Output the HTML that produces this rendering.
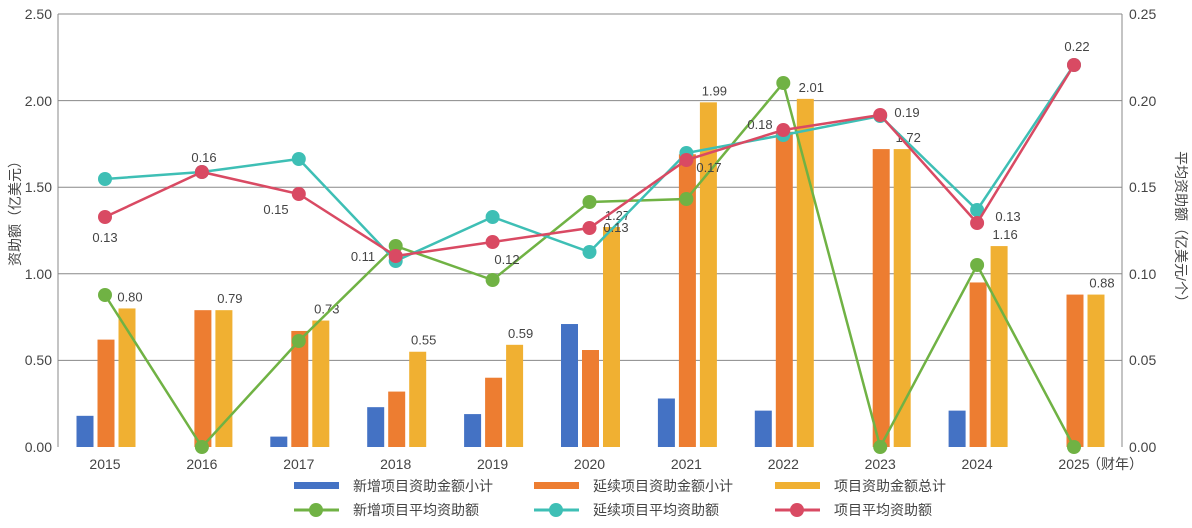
<!DOCTYPE html><html><head><meta charset="utf-8"><style>body{margin:0;background:#fff}svg{display:block;font-family:"Liberation Sans","Noto Sans CJK SC",sans-serif}</style></head><body>
<svg width="1192" height="528" viewBox="0 0 1192 528" xmlns="http://www.w3.org/2000/svg">
<g stroke="#888" stroke-width="1">
<line x1="58" x2="1122" y1="14" y2="14"/><line x1="58" x2="1122" y1="100.6" y2="100.6"/><line x1="58" x2="1122" y1="187.2" y2="187.2"/><line x1="58" x2="1122" y1="273.8" y2="273.8"/><line x1="58" x2="1122" y1="360.4" y2="360.4"/>
<line x1="58" x2="58" y1="14" y2="447"/><line x1="1122" x2="1122" y1="14" y2="447"/>
</g>
<g font-size="14" fill="#444" text-anchor="end">
<text x="52" y="19">2.50</text><text x="52" y="106">2.00</text><text x="52" y="192">1.50</text><text x="52" y="279">1.00</text><text x="52" y="365">0.50</text><text x="52" y="452">0.00</text></g>
<g font-size="14" fill="#444">
<text x="1129" y="19">0.25</text><text x="1129" y="106">0.20</text><text x="1129" y="192">0.15</text><text x="1129" y="279">0.10</text><text x="1129" y="365">0.05</text><text x="1129" y="452">0.00</text></g>
<text transform="translate(20,210) rotate(-90)" font-size="14" fill="#444" text-anchor="middle">资助额（亿美元）</text>
<text transform="translate(1176,230) rotate(90)" font-size="14" fill="#444" text-anchor="middle">平均资助额（亿美元/个）</text>
<g id="bars"></g>
<g font-size="14" fill="#444" text-anchor="middle" id="xl"></g>
<text x="1115" y="469" font-size="14" fill="#444" text-anchor="middle">（财年）</text>
<g id="lines"></g>
<g font-size="13" fill="#444" text-anchor="middle">
<text x="105" y="242">0.13</text><text x="204" y="162">0.16</text><text x="276" y="214">0.15</text><text x="363" y="261">0.11</text><text x="507" y="264">0.12</text><text x="616" y="232">0.13</text><text x="709" y="172">0.17</text><text x="760" y="129">0.18</text><text x="907" y="117">0.19</text><text x="1008" y="221">0.13</text><text x="1077" y="51">0.22</text>
</g>
<g font-size="14" fill="#444">
<rect x="294" y="482" width="45" height="7" fill="#4472c4"/><text x="353" y="491">新增项目资助金额小计</text>
<rect x="534" y="482" width="45" height="7" fill="#ed7d31"/><text x="593" y="491">延续项目资助金额小计</text>
<rect x="775" y="482" width="45" height="7" fill="#f0b032"/><text x="834" y="491">项目资助金额总计</text>
<line x1="294" x2="339" y1="510" y2="510" stroke="#70b244" stroke-width="3"/><circle cx="316" cy="510" r="7" fill="#70b244"/><text x="353" y="515">新增项目平均资助额</text>
<line x1="534" x2="579" y1="510" y2="510" stroke="#3ebfb5" stroke-width="3"/><circle cx="556" cy="510" r="7" fill="#3ebfb5"/><text x="593" y="515">延续项目平均资助额</text>
<line x1="775" x2="820" y1="510" y2="510" stroke="#d94a63" stroke-width="3"/><circle cx="797" cy="510" r="7" fill="#d94a63"/><text x="834" y="515">项目平均资助额</text>
</g>
</svg>
<script>
var ns="http://www.w3.org/2000/svg";
function cx(i){return 105+96.9*i}
function y(v){return 447-v*173.2}
var blue=[0.18,0,0.06,0.23,0.19,0.71,0.28,0.21,0,0.21,0];
var orange=[0.62,0.79,0.67,0.32,0.40,0.56,1.69,1.82,1.72,0.95,0.88];
var yellow=[0.80,0.79,0.73,0.55,0.59,1.27,1.99,2.01,1.72,1.16,0.88];
var lab=["0.80","0.79","0.73","0.55","0.59","1.27","1.99","2.01","1.72","1.16","0.88"];
var B=document.getElementById("bars"),X=document.getElementById("xl"),L=document.getElementById("lines");
function el(p,t,a){var e=document.createElementNS(ns,t);for(var k in a)e.setAttribute(k,a[k]);p.appendChild(e);return e}
for(var i=0;i<11;i++){
 var c=cx(i);
 [[blue,-20,"#4472c4"],[orange,1,"#ed7d31"],[yellow,22,"#f0b032"]].forEach(function(s){var v=s[0][i];if(v>0)el(B,"rect",{x:c+s[1]-8.5,y:y(v),width:17,height:v*173.2,fill:s[2]})});
 var t=el(B,"text",{x:c+(i==0?25:28),y:y(yellow[i])-7,"font-size":13,fill:"#444","text-anchor":"middle"});t.textContent=lab[i];
 if(i<10||true){var tx=el(X,"text",{x:c,y:469});tx.textContent=2015+i;}
}
var series=[["#70b244",[295,447,341,246,280,202,199,83,447,265,447]],["#3ebfb5",[179,172,159,261,217,252,153,135,116,210,65]],["#d94a63",[217,172,194,256,242,228,160,130,115,223,65]]];
series.forEach(function(s){var p=s[1].map(function(v,i){return cx(i)+","+v}).join(" ");el(L,"polyline",{points:p,fill:"none",stroke:s[0],"stroke-width":2.5});s[1].forEach(function(v,i){el(L,"circle",{cx:cx(i),cy:v,r:7,fill:s[0]})})});
</script>
</body></html>
